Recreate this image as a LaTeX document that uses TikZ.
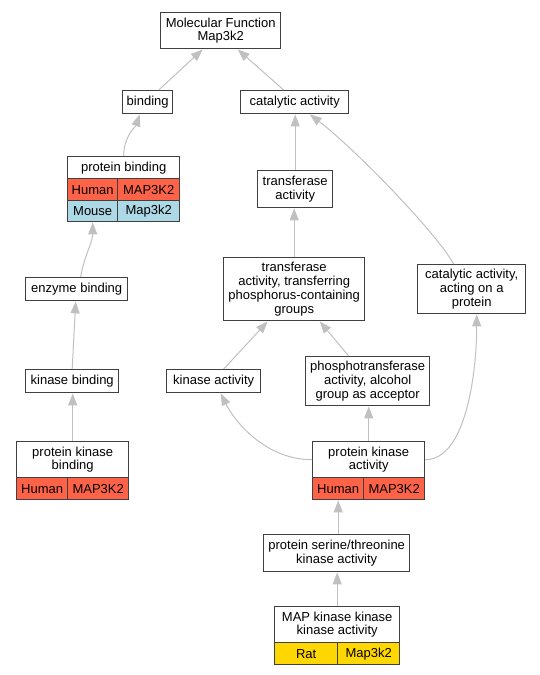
\documentclass[tikz,border=0pt]{standalone}
\usepackage{fontspec}
\setmainfont{Liberation Sans}
\usetikzlibrary{arrows.meta}

\definecolor{edgegray}{RGB}{192,192,192}
\definecolor{boxgray}{RGB}{64,64,64}
\definecolor{human}{RGB}{255,99,71}
\definecolor{mouse}{RGB}{173,216,230}
\definecolor{rat}{RGB}{255,215,0}

\begin{document}
\begin{tikzpicture}[x=1pt, y=-1pt,
	term/.style={draw=boxgray, line width=1.4pt, fill=white, inner sep=0pt, align=center, anchor=north west, font=\fontsize{13}{13.8}\selectfont},
	isa/.style={draw=edgegray, line width=1pt, -{Triangle[length=12pt, width=9pt]}}]
	
	\useasboundingbox (0,0) rectangle (540,675);
	
	% terms
	\node [term, minimum width=120pt, minimum height=36pt] (mf) at (160,12) {Molecular Function\\Map3k2};
	
	\node [term, minimum width=50pt, minimum height=23pt] (binding) at (122,90) {binding};
	
	\node [term, minimum width=108pt, minimum height=23pt] (cat) at (240,90) {catalytic activity};
	
	\node [term, minimum width=112pt, minimum height=22pt] (pb) at (67,156) {protein binding};
	\node [term, fill=human, minimum width=50pt, minimum height=22pt] (pbh1) at (67,178) {Human};
	\node [term, fill=human, minimum width=62pt, minimum height=22pt] (pbh2) at (117,178) {MAP3K2};
	\node [term, fill=mouse, minimum width=50pt, minimum height=21pt] (pbm1) at (67,200) {Mouse};
	\node [term, fill=mouse, minimum width=62pt, minimum height=21pt] (pbm2) at (117,200) {Map3k2};
	
	\node [term, minimum width=75pt, minimum height=37pt] (transferase) at (257,170) {transferase\\activity};
	
	\node [term, minimum width=102pt, minimum height=23pt] (enzyme) at (25,277) {enzyme binding};
	
	\node [term, minimum width=141pt, minimum height=63pt] (transferring) at (223,257) {transferase\\activity, transferring\\phosphorus-containing\\groups};
	
	\node [term, minimum width=108pt, minimum height=49pt] (catact) at (417,264) {catalytic activity,\\acting on a\\protein};
	
	\node [term, minimum width=93pt, minimum height=23pt] (kb) at (25,369) {kinase binding};
	
	\node [term, minimum width=94pt, minimum height=23pt] (ka) at (166,369) {kinase activity};
	
	\node [term, minimum width=124pt, minimum height=49pt] (phospho) at (305,356) {phosphotransferase\\activity, alcohol\\group as acceptor};
	
	\node [term, minimum width=112pt, minimum height=36pt] (pkb) at (16,441) {protein kinase\\binding};
	\node [term, fill=human, minimum width=51pt, minimum height=22pt] (pkbh1) at (16,477) {Human};
	\node [term, fill=human, minimum width=61pt, minimum height=22pt] (pkbh2) at (67,477) {MAP3K2};
	
	\node [term, minimum width=112pt, minimum height=36pt] (pka) at (312,441) {protein kinase\\activity};
	\node [term, fill=human, minimum width=51pt, minimum height=22pt] (pkah1) at (312,477) {Human};
	\node [term, fill=human, minimum width=61pt, minimum height=22pt] (pkah2) at (363,477) {MAP3K2};
	
	\node [term, minimum width=146pt, minimum height=37pt] (serine) at (263,534) {protein serine/threonine\\kinase activity};
	
	\node [term, minimum width=125pt, minimum height=36pt] (mapkkk) at (274,606) {MAP kinase kinase\\kinase activity};
	\node [term, fill=rat, minimum width=63pt, minimum height=22pt] (mapr1) at (274,642) {Rat};
	\node [term, fill=rat, minimum width=62pt, minimum height=22pt] (mapr2) at (337,642) {Map3k2};
	
	% is_a edges
	\draw [isa] ([xshift=11pt]binding.north) -- ([xshift=-18pt]mf.south);
	
	\draw [isa] ([xshift=-11pt]cat.north) -- ([xshift=17pt]mf.south);
	
	\draw [isa] (pb.north) .. controls +(0,-20) and +(-4,12) .. ([xshift=-8pt]binding.south);
	
	\draw [isa] (transferase.north) -- (transferase.north |- cat.south);
	
	\draw [isa] ([xshift=-18pt]catact.north) .. controls +(-20,-35) and +(40,30) .. ([xshift=15pt]cat.south);
	
	\draw [isa] ([xshift=4pt]enzyme.north) .. controls +(3,-20) and +(0,20) .. (pbm1.south);
	
	\draw [isa] (transferring.north) -- (transferring.north |- transferase.south);
	
	\draw [isa] (kb.north) -- ([xshift=-1pt]enzyme.south);
	
	\draw [isa] ([xshift=10pt]ka.north) -- ([xshift=-26.5pt]transferring.south);
	
	\draw [isa] ([xshift=-19pt]phospho.north) -- ([xshift=25.5pt]transferring.south);
	
	\draw [isa] (pkb.north) -- (pkb.north |- kb.south);
	
	\draw [isa] (pka.west) .. controls +(-45,0) and +(15,30) .. ([xshift=7pt]ka.south);
	
	\draw [isa] (pka.north) -- (pka.north |- phospho.south);
	
	\draw [isa] (pka.east) .. controls +(40,0) and +(0,60) .. ([xshift=5pt]catact.south);
	
	\draw [isa] (pkah1.south |- serine.north) -- (pkah1.south);
	
	\draw [isa] (mapkkk.north) -- (mapkkk.north |- serine.south);
	
\end{tikzpicture}
\end{document}
